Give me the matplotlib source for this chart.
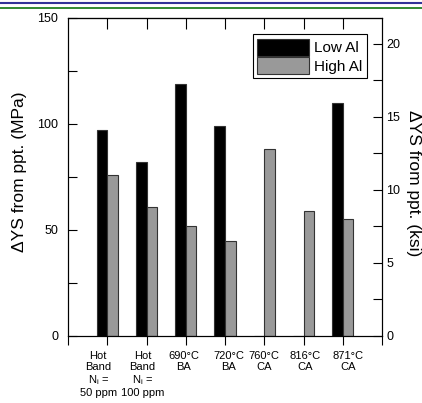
import matplotlib
matplotlib.use("Agg")
import matplotlib.pyplot as plt
from matplotlib.lines import Line2D
import matplotlib.transforms as mtransforms
import numpy as np

plt.rcParams['font.family'] = ['Liberation Sans', 'DejaVu Sans']

categories = ["Hot\nBand\nN$_\\mathregular{i}$ =\n50 ppm", "Hot\nBand\nN$_\\mathregular{i}$ =\n100 ppm",
              "690°C\nBA", "720°C\nBA", "760°C\nCA", "816°C\nCA", "871°C\nCA"]
low_al = [97, 82, 119, 99, 0, 0, 110]
high_al = [76, 61, 52, 45, 88, 59, 55]
series_names = ["Low Al", "High Al"]

fig = plt.figure(figsize=(4.22, 4.03), dpi=100)
ax = fig.add_axes([68/422, 1-336/403, 314/422, 318/403])

x = np.arange(1, len(categories)+1)
w = 0.27
ax.bar(x - w/2, low_al, w, color='black', edgecolor='#333333', linewidth=0.8, label=series_names[0])
ax.bar(x + w/2, high_al, w, color='#999999', edgecolor='#333333', linewidth=0.8, label=series_names[1])

ax.set_xlim(0, 8)
ax.set_ylim(0, 150)
ax.set_xticks(np.arange(0, 9))
ax.set_xticklabels([""] + categories + [""], fontsize=8, linespacing=1.15)
ax.tick_params(axis='x', direction='out', length=6.5, width=0.8, pad=4)
# small horizontal offsets of the category labels (pixels), as in the original
label_shift_px = [0, -9, -4, -2, 4, 0, 2, 5, 0]
for lab, dx in zip(ax.get_xticklabels(), label_shift_px):
    lab.set_transform(lab.get_transform() + mtransforms.ScaledTranslation(dx/100, 0, fig.dpi_scale_trans))
ax.set_yticks([0, 50, 100, 150])
ax.set_yticks([25, 75, 125], minor=True)
ax.tick_params(axis='y', which='both', direction='in', length=6.5, width=0.8, labelsize=9, pad=7)
ax.set_ylabel("ΔYS from ppt. (MPa)", fontsize=12.5)
ax.yaxis.set_label_coords(-0.131, 0.516)
for s in ax.spines.values():
    s.set_linewidth(0.8)

top = ax.secondary_xaxis('top')
top.set_xticks(x)
top.set_xticklabels([])
top.tick_params(axis='x', direction='in', length=8, width=0.8)

ax2 = ax.twinx()
ax2.set_ylim(0, 150/6.895)
ax2.set_yticks([0, 5, 10, 15, 20])
ax2.set_yticks([2.5, 7.5, 12.5, 17.5], minor=True)
ax2.tick_params(axis='y', which='both', direction='in', length=6.5, width=0.8, labelsize=9, pad=3)
ax2.set_ylabel("ΔYS from ppt. (ksi)", fontsize=12.5, rotation=270, va='center')
ax2.yaxis.set_label_coords(1.099, 0.48)
for s in ax2.spines.values():
    s.set_linewidth(0.8)

leg = ax.legend(loc='upper right', bbox_to_anchor=(366.7/422, 1-34.3/403), bbox_transform=fig.transFigure,
                fontsize=11, frameon=True, fancybox=False, edgecolor='black', framealpha=1,
                handlelength=3.4, handleheight=1.3, handletextpad=0.3, borderpad=0.3,
                labelspacing=0.1, borderaxespad=0)
leg.get_frame().set_linewidth(0.8)

fig.add_artist(Line2D([0, 1], [1-2.5/403, 1-2.5/403], transform=fig.transFigure, color='#333399', linewidth=1.5))
fig.add_artist(Line2D([0, 1], [1-7.5/403, 1-7.5/403], transform=fig.transFigure, color='#117711', linewidth=1.2))

fig.savefig("out.png", dpi=100)
